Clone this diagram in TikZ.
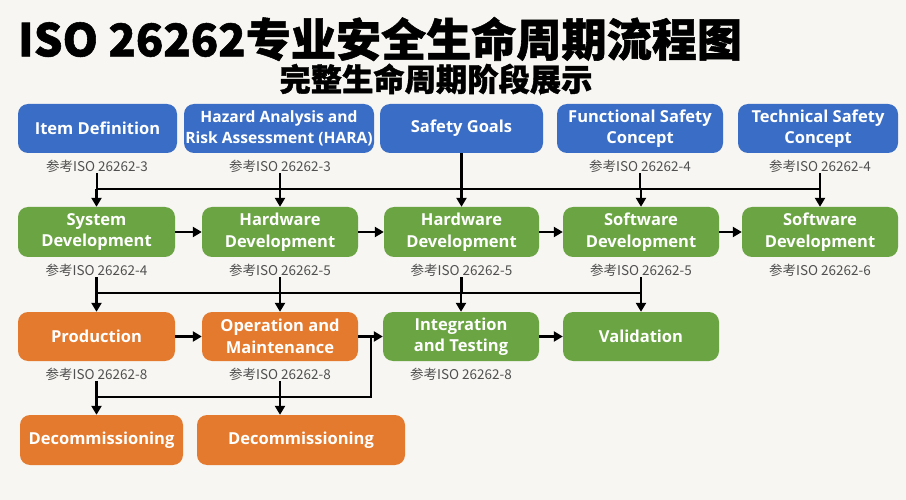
\documentclass[tikz,border=0pt]{standalone}
\usepackage{fontspec}
\usepackage{graphicx}
\setmainfont{Open Sans}
\newfontfamily\cjk{Noto Sans CJK SC}
\newfontfamily\cjkt{Noto Sans CJK SC}[BoldFeatures={FakeBold=1.2}]
\usetikzlibrary{arrows.meta}
\definecolor{bgc}{HTML}{F7F6F2}
\definecolor{bluebox}{HTML}{3A6DC5}
\definecolor{greenbox}{HTML}{6BA543}
\definecolor{orangebox}{HTML}{E47A2E}
\definecolor{labgray}{HTML}{505050}
\tikzset{
  box/.style={rounded corners=10pt, inner sep=0pt, align=center, text=white,
    font=\fontsize{16.5}{21.5}\selectfont\bfseries},
  bluestep/.style={box, fill=bluebox},
  greenstep/.style={box, fill=greenbox},
  orangestep/.style={box, fill=orangebox},
  reflab/.style={inner sep=1pt, text=labgray, font=\cjk\fontsize{13.5}{15}\selectfont},
  ln/.style={line width=2.5pt, black},
  arr/.style={ln, -{Triangle[length=9pt,width=10pt]}}
}
\begin{document}
\begin{tikzpicture}[x=1pt,y=-1pt]
\fill[bgc] (0,0) rectangle (906,500);
\useasboundingbox (0,0) rectangle (906,500);

% titles
\node[inner sep=0pt] (title) at (380,39) {\resizebox{724pt}{!}{\cjkt\bfseries\fontsize{46}{50}\selectfont ISO 26262专业安全生命周期流程图}};
\node[inner sep=0pt] (subtitle) at (436,79) {\resizebox{313pt}{!}{\cjkt\bfseries\fontsize{30}{34}\selectfont 完整生命周期阶段展示}};

% row 1
\node[bluestep, minimum width=159pt, minimum height=49pt] (a1) at (97.5,128.5) {Item Definition};
\node[bluestep, minimum width=190pt, minimum height=49pt, font=\fontsize{15.6}{21.5}\selectfont\bfseries] (a2) at (279,128.5) {Hazard Analysis and\\Risk Assessment (HARA)};
\node[bluestep, minimum width=163pt, minimum height=49pt] (a3) at (461.5,128.5) {Safety Goals};
\node[bluestep, minimum width=166pt, minimum height=49pt] (a4) at (640,128.5) {Functional Safety\\Concept};
\node[bluestep, minimum width=160pt, minimum height=49pt] (a5) at (818,128.5) {Technical Safety\\Concept};
\node[reflab] (a1lab) at (97,166) {参考ISO 26262-3};
\node[reflab] (a2lab) at (280,166) {参考ISO 26262-3};
\node[reflab] (a4lab) at (640,166) {参考ISO 26262-4};
\node[reflab] (a5lab) at (820,166) {参考ISO 26262-4};

% row 2
\node[greenstep, minimum width=157pt, minimum height=50pt] (b1) at (96.5,232) {System\\Development};
\node[greenstep, minimum width=156pt, minimum height=50pt] (b2) at (280,232) {Hardware\\Development};
\node[greenstep, minimum width=155pt, minimum height=50pt] (b3) at (461.5,232) {Hardware\\Development};
\node[greenstep, minimum width=156pt, minimum height=50pt] (b4) at (641,232) {Software\\Development};
\node[greenstep, minimum width=156pt, minimum height=50pt] (b5) at (820,232) {Software\\Development};
\node[reflab] (b1lab) at (96.5,270) {参考ISO 26262-4};
\node[reflab] (b2lab) at (280,270) {参考ISO 26262-5};
\node[reflab] (b3lab) at (461.5,270) {参考ISO 26262-5};
\node[reflab] (b4lab) at (641,270) {参考ISO 26262-5};
\node[reflab] (b5lab) at (820,270) {参考ISO 26262-6};

% row 3
\node[orangestep, minimum width=157pt, minimum height=49pt] (c1) at (96.5,336.5) {Production};
\node[orangestep, minimum width=156pt, minimum height=49pt] (c2) at (280,336.5) {Operation and\\Maintenance};
\node[greenstep, minimum width=156pt, minimum height=49pt] (c3) at (461,336.5) {Integration\\and Testing};
\node[greenstep, minimum width=156pt, minimum height=49pt] (c4) at (641,336.5) {Validation};
\node[reflab] (c1lab) at (96.5,374) {参考ISO 26262-8};
\node[reflab] (c2lab) at (280,374) {参考ISO 26262-8};
\node[reflab] (c3lab) at (461,374) {参考ISO 26262-8};

% row 4
\node[orangestep, minimum width=163pt, minimum height=50pt] (d1) at (101.5,440) {Decommissioning};
\node[orangestep, minimum width=208pt, minimum height=50pt] (d2) at (301,440) {Decommissioning};

% bus coordinates
\coordinate (bus1) at (0,189);
\coordinate (bus2) at (0,293);
\coordinate (bus3) at (0,397);
\coordinate (loopx) at (371,0);

% row1 -> row2
\draw[ln] (a1lab.south) -- (a1lab.south |- bus1);
\draw[ln] (a2lab.south) -- (a2lab.south |- bus1);
\draw[ln] (a3.south) -- (a3.south |- bus1);
\draw[ln] (a4lab.south) -- (a4lab.south |- bus1);
\draw[ln] (a5lab.south) -- (a5lab.south |- bus1);
\draw[ln] (b1.north |- bus1) -- (b5.north |- bus1);
\draw[arr] (b1.north |- bus1) -- (b1.north);
\draw[arr] (b2.north |- bus1) -- (b2.north);
\draw[arr] (b3.north |- bus1) -- (b3.north);
\draw[arr] (b4.north |- bus1) -- (b4.north);
\draw[arr] (b5.north |- bus1) -- (b5.north);

% row2 horizontal
\draw[arr] (b1.east) -- (b2.west);
\draw[arr] (b2.east) -- (b3.west);
\draw[arr] (b3.east) -- (b4.west);
\draw[arr] (b4.east) -- (b5.west);

% row2 -> row3
\draw[ln] (b1lab.south) -- (b1lab.south |- bus2);
\draw[ln] (b2lab.south) -- (b2lab.south |- bus2);
\draw[ln] (b3lab.south) -- (b3lab.south |- bus2);
\draw[ln] (b4lab.south) -- (b4lab.south |- bus2);
\draw[ln] (c1.north |- bus2) -- (c4.north |- bus2);
\draw[arr] (c1.north |- bus2) -- (c1.north);
\draw[arr] (c2.north |- bus2) -- (c2.north);
\draw[arr] (c3.north |- bus2) -- (c3.north);
\draw[arr] (c4.north |- bus2) -- (c4.north);

% row3 horizontal
\draw[arr] (c1.east) -- (c2.west);
\draw[arr] (c2.east) -- (c3.west);
\draw[arr] (c3.east) -- (c4.west);

% row3 -> row4 and loop
\draw[arr] (c1lab.south) -- (c1lab.south |- d1.north);
\draw[arr] (c2lab.south) -- (c2lab.south |- d2.north);
\draw[ln] (c1lab.south |- bus3) -- (loopx |- bus3) -- (loopx |- c3.west);
\end{tikzpicture}
\end{document}
